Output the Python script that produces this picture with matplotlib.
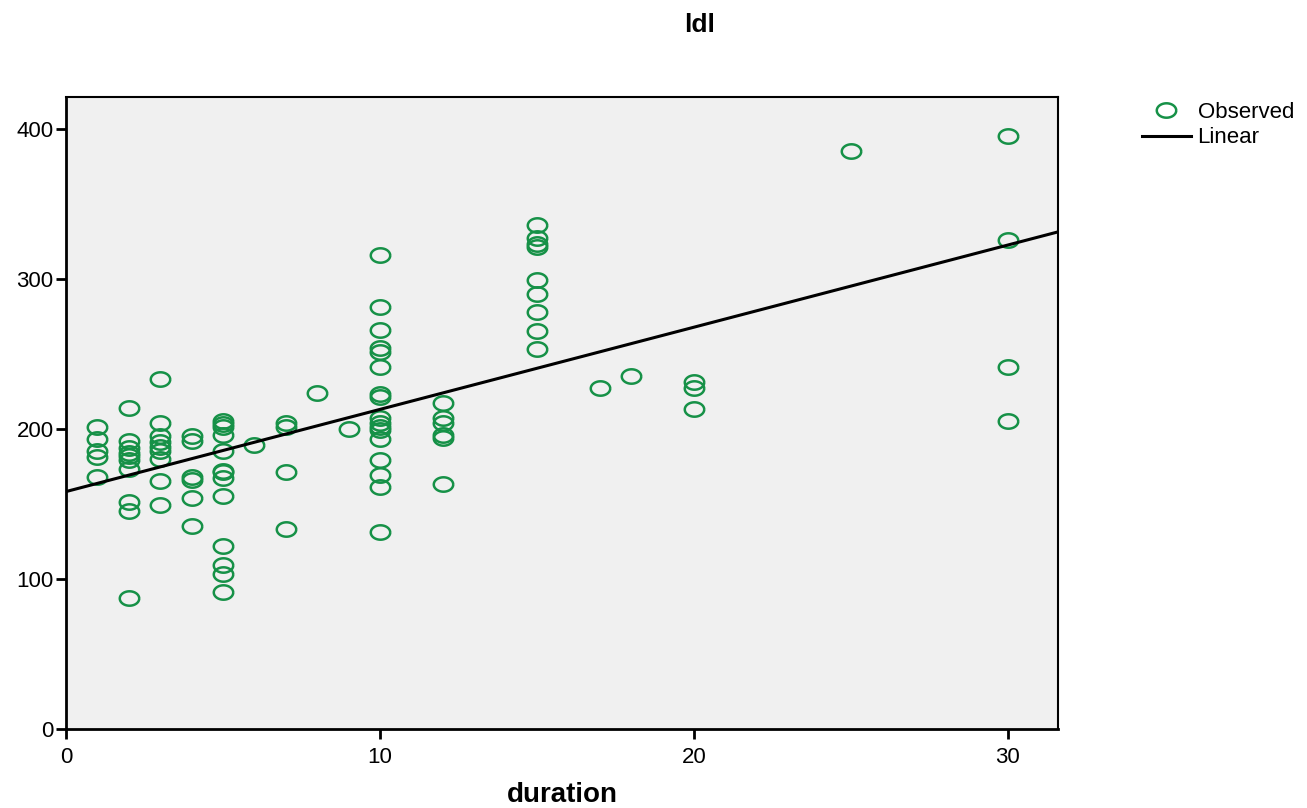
import numpy as np
import matplotlib.pyplot as plt
from matplotlib.path import Path

plt.rcParams['font.family'] = ['Liberation Sans', 'DejaVu Sans']

# observed ldl values grouped by duration
duration_1 = [201, 193, 185, 181, 168]
duration_2 = [214, 192, 187, 184, 182, 179, 173, 151, 145, 87]
duration_3 = [233, 204, 195, 191, 188, 185, 180, 165, 149]
duration_4 = [195, 192, 168, 166, 154, 135]
duration_5 = [205, 203, 201, 196, 185, 172, 171, 167, 155, 122, 109, 103, 91]
duration_6 = [189]
duration_7 = [204, 201, 171, 133]
duration_8 = [224]
duration_9 = [200]
duration_10 = [316, 281, 266, 254, 251, 241, 223, 221, 207, 204, 201, 199, 193, 179, 169, 161, 131]
duration_12 = [217, 207, 204, 196, 194, 163]
duration_15 = [336, 327, 323, 321, 299, 290, 278, 265, 253]
duration_17 = [227]
duration_18 = [235]
duration_20 = [231, 227, 213]
duration_25 = [385]
duration_30 = [395, 326, 241, 205]

groups = {1: duration_1, 2: duration_2, 3: duration_3, 4: duration_4, 5: duration_5,
          6: duration_6, 7: duration_7, 8: duration_8, 9: duration_9, 10: duration_10,
          12: duration_12, 15: duration_15, 17: duration_17, 18: duration_18,
          20: duration_20, 25: duration_25, 30: duration_30}

x = []
y = []
for d, vals in groups.items():
    x += [d] * len(vals)
    y += vals
x = np.array(x, dtype=float)
y = np.array(y, dtype=float)

slope, intercept = np.polyfit(x, y, 1)

# wide ellipse marker like SPSS
t = np.linspace(0, 2 * np.pi, 60)
ellipse = Path(np.column_stack([1.35 * np.cos(t), np.sin(t)]))

green = '#169147'

fig = plt.figure(figsize=(13.07, 8.08), dpi=100)
ax = fig.add_axes([66 / 1307, 1 - 729 / 808, (1058 - 66) / 1307, (729 - 97) / 808])
ax.set_facecolor('#f0f0f0')

ax.plot(x, y, linestyle='none', marker=ellipse, markersize=14, markerfacecolor='none',
        markeredgecolor=green, markeredgewidth=1.8, label='Observed')
xs = np.array([0, 31.6])
ax.plot(xs, intercept + slope * xs, color='black', linewidth=2.2, label='Linear')

ax.set_xlim(0, 31.6)
ax.set_ylim(0, 421)
ax.set_xticks([0, 10, 20, 30])
ax.set_yticks([0, 100, 200, 300, 400])
ax.tick_params(direction='out', length=7, width=2, labelsize=16)
ax.tick_params(axis='x', pad=6)
ax.tick_params(axis='y', pad=2)
for s in ax.spines.values():
    s.set_linewidth(1.5)
ax.spines['left'].set_linewidth(2)
ax.spines['bottom'].set_linewidth(2)

ax.set_xlabel('duration', fontsize=20, fontweight='bold', labelpad=10)
fig.text(700 / 1307, 1 - 25 / 808, 'ldl', fontsize=19, fontweight='bold', ha='center', va='center')

fig.legend(loc='upper left', bbox_to_anchor=(1122 / 1307, 1 - 82 / 808), frameon=False,
           fontsize=16, handlelength=2.2, handletextpad=0.3, labelspacing=0.2)

fig.savefig('out.png', dpi=100)
